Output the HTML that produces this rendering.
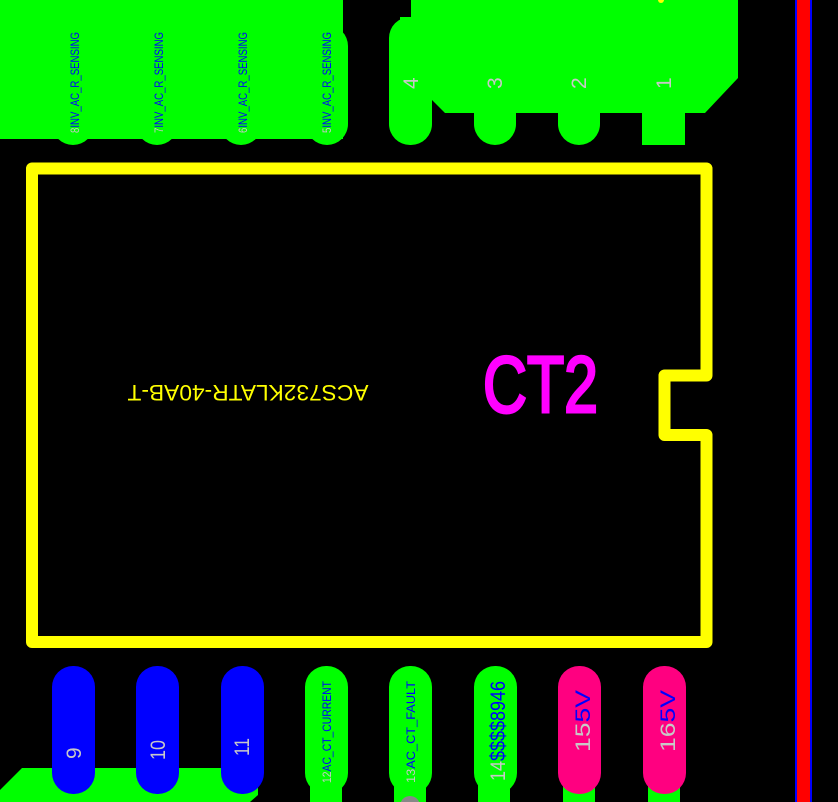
<!DOCTYPE html>
<html><head><meta charset="utf-8"><style>
html,body{margin:0;padding:0;background:#000;}
svg{display:block;}
text{font-family:"Liberation Sans",sans-serif;}
</style></head><body>
<svg width="838" height="802" viewBox="0 0 838 802" xmlns="http://www.w3.org/2000/svg">
<rect width="838" height="802" fill="#000"/>
<!-- top left copper -->
<path d="M0 0 H343 V139 H285 L305 121 V139 H0 Z" fill="#00ff00"/>
<rect x="306" y="25" width="42" height="120" rx="21" fill="#00ff00"/>
<g fill="#00ff00">
<rect x="52" y="100" width="42" height="45" rx="21"/>
<rect x="136" y="100" width="42" height="45" rx="21"/>
<rect x="220" y="100" width="42" height="45" rx="21"/>
</g>
<!-- top right copper -->
<path d="M411 0 H738 V78 L705 113 H445 L432 100 V17 H411 Z" fill="#00ff00"/>
<rect x="389" y="17" width="43" height="128" rx="21" fill="#00ff00"/>
<rect x="400" y="17" width="32" height="40" fill="#00ff00"/>
<rect x="474" y="90" width="42" height="55" rx="21" fill="#00ff00"/>
<rect x="558" y="90" width="42" height="55" rx="21" fill="#00ff00"/>
<rect x="642" y="100" width="43" height="45" fill="#00ff00"/>
<circle cx="661" cy="0" r="3" fill="#ffff00"/>
<!-- top labels -->
<g font-size="12" fill="#0000ff" font-family="Liberation Mono">
<text transform="translate(79,133) rotate(-90)" textLength="101" lengthAdjust="spacingAndGlyphs"><tspan fill="#c8c8c8">8</tspan>INV_AC_R_SENSING</text>
<text transform="translate(163,133) rotate(-90)" textLength="101" lengthAdjust="spacingAndGlyphs"><tspan fill="#c8c8c8">7</tspan>INV_AC_R_SENSING</text>
<text transform="translate(247,133) rotate(-90)" textLength="101" lengthAdjust="spacingAndGlyphs"><tspan fill="#c8c8c8">6</tspan>INV_AC_R_SENSING</text>
<text transform="translate(331,133) rotate(-90)" textLength="101" lengthAdjust="spacingAndGlyphs"><tspan fill="#c8c8c8">5</tspan>INV_AC_R_SENSING</text>
</g>
<g font-size="21" fill="#c8c8c8" font-family="Liberation Mono">
<text transform="translate(418,89) rotate(-90)">4</text>
<text transform="translate(502,89) rotate(-90)">3</text>
<text transform="translate(586,89) rotate(-90)">2</text>
<text transform="translate(671,89) rotate(-90)">1</text>
</g>
<!-- red line -->
<rect x="795" y="0" width="17" height="802" fill="#0000ff"/>
<rect x="797" y="0" width="13" height="802" fill="#ff0000"/>
<!-- yellow outline -->
<path d="M32 168.5 H706.5 V375.5 H664.5 V435 H706.5 V642 H32 Z" fill="none" stroke="#ffff00" stroke-width="12" stroke-linejoin="round"/>
<text transform="translate(248,393) rotate(180)" text-anchor="middle" font-size="22" fill="#ffff00" font-family="Liberation Mono" textLength="241" lengthAdjust="spacingAndGlyphs" dy="8">ACS732KLATR-40AB-T</text>
<text x="483" y="412" font-size="80" fill="#ff00ff" stroke="#ff00ff" stroke-width="3" textLength="115" lengthAdjust="spacingAndGlyphs">CT2</text>
<!-- bottom copper -->
<path d="M0 790 L22 768 H258 V795 L250 802 H0 Z" fill="#00ff00"/>
<g fill="#00ff00">
<rect x="310" y="760" width="32" height="42"/>
<rect x="394" y="760" width="32" height="42"/>
<rect x="478" y="760" width="32" height="42"/>
<rect x="563" y="760" width="32" height="42"/>
<rect x="648" y="760" width="32" height="42"/>
</g>
<circle cx="410" cy="806" r="10" fill="#888"/>
<g fill="#0000ff">
<rect x="52" y="666" width="43" height="128" rx="21"/>
<rect x="136" y="666" width="43" height="128" rx="21"/>
<rect x="221" y="666" width="43" height="128" rx="21"/>
</g>
<g fill="#00ff00">
<rect x="305" y="666" width="43" height="128" rx="21"/>
<rect x="389" y="666" width="43" height="128" rx="21"/>
<rect x="474" y="666" width="43" height="128" rx="21"/>
</g>
<g fill="#ff0080">
<rect x="558" y="666" width="43" height="128" rx="21"/>
<rect x="643" y="666" width="43" height="128" rx="21"/>
</g>
<g font-size="21" fill="#c8c8c8" font-family="Liberation Mono">
<text transform="translate(81,759) rotate(-90)">9</text>
<text transform="translate(165,760) rotate(-90)" textLength="20" lengthAdjust="spacingAndGlyphs">10</text>
<text transform="translate(249,756) rotate(-90)" textLength="18" lengthAdjust="spacingAndGlyphs">11</text>
</g>
<g font-size="12" fill="#0000ff" font-family="Liberation Mono">
<text transform="translate(331,783) rotate(-90)" textLength="102" lengthAdjust="spacingAndGlyphs"><tspan fill="#c8c8c8">12</tspan>AC_CT_CURRENT</text>
<text transform="translate(415,783) rotate(-90)" textLength="102" lengthAdjust="spacingAndGlyphs"><tspan fill="#c8c8c8">13</tspan>AC_CT_FAULT</text>
</g>
<text transform="translate(505,781) rotate(-90)" font-size="21" fill="#0000ff" font-family="Liberation Mono" textLength="100" lengthAdjust="spacingAndGlyphs"><tspan fill="#c8c8c8">14</tspan>$$$$8946</text>
<text transform="translate(590,752) rotate(-90)" font-size="21" fill="#0000ff" font-family="Liberation Mono" textLength="62" lengthAdjust="spacingAndGlyphs"><tspan fill="#c8c8c8">15</tspan>5V</text>
<text transform="translate(675,752) rotate(-90)" font-size="21" fill="#0000ff" font-family="Liberation Mono" textLength="62" lengthAdjust="spacingAndGlyphs"><tspan fill="#c8c8c8">16</tspan>5V</text>
</svg>
</body></html>
